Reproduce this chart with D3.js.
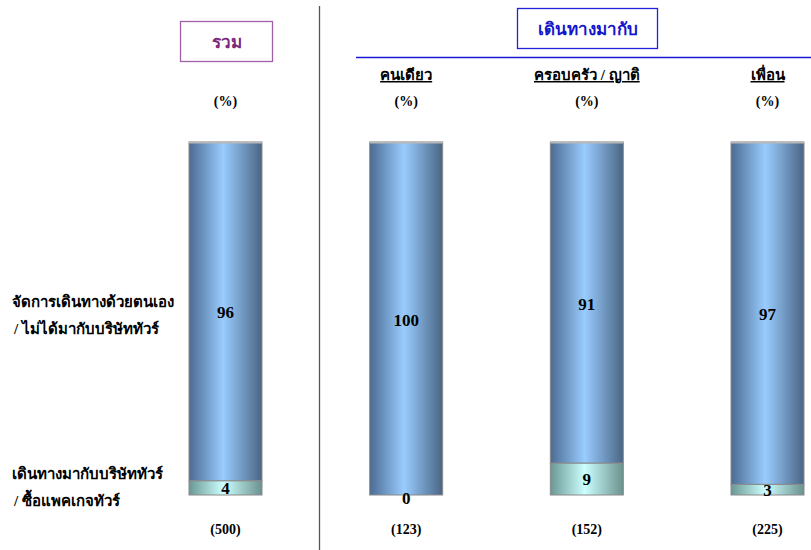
<!DOCTYPE html>
<html><head><meta charset="utf-8">
<script src="https://cdn.jsdelivr.net/npm/d3@7/dist/d3.min.js"></script>
<style>body{margin:0;background:#fff}svg{display:block}text{font-family:"Liberation Serif","Times New Roman",serif;font-weight:bold}</style>
</head><body>
<svg id="c" width="811" height="550"></svg>
<script>
const groups = ["รวม", "คนเดียว", "ครอบครัว / ญาติ", "เพื่อน"];
const selfArranged = [96, 100, 91, 97];
const tourCompany = [4, 0, 9, 3];
const baseN = ["(500)", "(123)", "(152)", "(225)"];
const rowLabels = [["จัดการเดินทางด้วยตนเอง", "/ ไม่ได้มากับบริษัททัวร์"], ["เดินทางมากับบริษัททัวร์", "/ ซื้อแพคเกจทัวร์"]];

const svg = d3.select("#c");
const defs = svg.append("defs");
function grad(id, edge, mid) {
  const g = defs.append("linearGradient").attr("id", id).attr("x1", 0).attr("x2", 1).attr("y1", 0).attr("y2", 0);
  g.append("stop").attr("offset", "0%").attr("stop-color", edge[0]);
  g.append("stop").attr("offset", "47%").attr("stop-color", mid);
  g.append("stop").attr("offset", "100%").attr("stop-color", edge[1]);
}
grad("gBlue", ["#4b6b92", "#4a6584"], "#99ccff");
grad("gLight", ["#6a9793", "#6a918d"], "#ccffff");

const x = d3.scaleBand().domain(groups).range([189, 804]).paddingInner(0.596).paddingOuter(0);
const y = d3.scaleLinear().domain([0, 100]).range([495, 142]);

// separators
svg.append("line").attr("x1", 319.5).attr("x2", 319.5).attr("y1", 6).attr("y2", 550).attr("stroke", "#555").attr("stroke-width", 1.3);
svg.append("line").attr("x1", 356).attr("x2", 811).attr("y1", 57.5).attr("y2", 57.5).attr("stroke", "#1a1ad6").attr("stroke-width", 1.3);

// header boxes
svg.append("rect").attr("x", 180.5).attr("y", 21.5).attr("width", 92).attr("height", 40).attr("fill", "#fff").attr("stroke", "#a060a8").attr("stroke-width", 1.3);
svg.append("text").attr("x", 226.5).attr("y", 48).attr("text-anchor", "middle").attr("font-size", 17).attr("fill", "#7a2a7a").text("รวม");
svg.append("rect").attr("x", 517.5).attr("y", 8.5).attr("width", 140).attr("height", 40).attr("fill", "#fff").attr("stroke", "#2222dd").attr("stroke-width", 1.3);
svg.append("text").attr("x", 587.5).attr("y", 35).attr("text-anchor", "middle").attr("font-size", 17).attr("fill", "#1515cc").text("เดินทางมากับ");

// column headers
groups.forEach((g, i) => {
  const cx = x(g) + x.bandwidth() / 2;
  if (i > 0) {
    svg.append("text").attr("x", cx).attr("y", 80).attr("text-anchor", "middle").attr("font-size", 15).attr("fill", "#000").attr("text-decoration", "underline").text(g);
  }
  svg.append("text").attr("x", cx).attr("y", 106).attr("text-anchor", "middle").attr("font-size", 14).attr("fill", "#000").text("(%)");
  svg.append("text").attr("x", cx).attr("y", 534).attr("text-anchor", "middle").attr("font-size", 14).attr("fill", "#000").text(baseN[i]);
});

// bars
const bw = x.bandwidth();
groups.forEach((g, i) => {
  const bx = x(g);
  const t = tourCompany[i], s = selfArranged[i];
  svg.append("rect").attr("x", bx).attr("y", y(t + s)).attr("width", bw).attr("height", y(t) - y(t + s))
    .attr("fill", "url(#gBlue)").attr("stroke", "#8a8a8a").attr("stroke-width", 1);
  if (t > 0) {
    svg.append("rect").attr("x", bx).attr("y", y(t)).attr("width", bw).attr("height", y(0) - y(t))
      .attr("fill", "url(#gLight)").attr("stroke", "#8a8a8a").attr("stroke-width", 1);
  }
  svg.append("line").attr("x1", bx).attr("x2", bx + bw).attr("y1", y(t + s) + 0.5).attr("y2", y(t + s) + 0.5).attr("stroke", "#b8b8b8").attr("stroke-width", 2);
  const cx = bx + bw / 2;
  svg.append("text").attr("x", cx).attr("y", (y(t + s) + y(t)) / 2 + 7).attr("text-anchor", "middle").attr("font-size", 17).attr("fill", "#000").text(s);
  const ly = t > 0 ? (y(t) + y(0)) / 2 + 6 : y(0) + 9;
  svg.append("text").attr("x", cx).attr("y", ly).attr("text-anchor", "middle").attr("font-size", 17).attr("fill", "#000").text(t);
});

// row labels
const rowY = [[307, 334], [479, 506]];
rowLabels.forEach((lines, r) => {
  lines.forEach((ln, j) => {
    svg.append("text").attr("x", j === 0 ? 12 : 14).attr("y", rowY[r][j]).attr("font-size", 15).attr("fill", "#000").text(ln);
  });
});
</script>
</body></html>
